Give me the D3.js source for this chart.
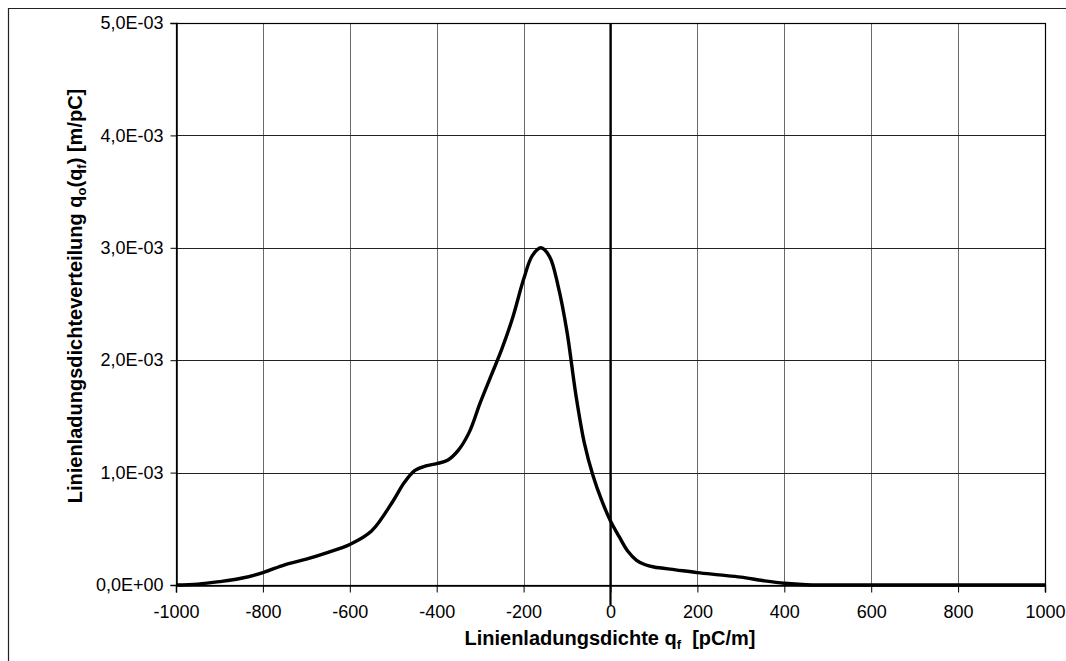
<!DOCTYPE html>
<html>
<head>
<meta charset="utf-8">
<script src="https://cdn.jsdelivr.net/npm/d3@7"></script>
<style>
  html, body { margin: 0; padding: 0; background: #fff; }
  svg { display: block; font-family: "Liberation Sans", Arial, sans-serif; }
</style>
</head>
<body>
<svg id="chart" width="1066" height="661"></svg>
<script>
// Linienladungsdichte q_f [pC/m]
const chargeDensity = [-1000, -950, -900, -850, -800, -750, -700, -650, -600, -550,
  -500, -475, -450, -425, -400, -375, -350, -325, -300, -275, -250, -225, -200,
  -180, -160, -140, -120, -100, -80, -60, -40, -20, 0, 20, 40, 60, 80, 100, 150,
  200, 250, 300, 350, 400, 450, 500, 600, 700, 800, 900, 1000];
// Verteilung q_o(q_f) [m/pC]
const distribution = [0, 0.000008, 0.00003, 0.00006, 0.00011, 0.00018, 0.00023,
  0.00029, 0.00036, 0.00048, 0.00075, 0.00091, 0.00102, 0.00106, 0.00108, 0.00111,
  0.00120, 0.00136, 0.00162, 0.00186, 0.00210, 0.00238, 0.00272, 0.00293, 0.00300,
  0.00292, 0.00265, 0.00225, 0.00170, 0.00126, 0.00097, 0.00075, 0.00057, 0.00043,
  0.00030, 0.00022, 0.00018, 0.00016, 0.000135, 0.00011, 0.00009, 0.00007, 0.00004,
  0.000015, 0.000002, 0, 0, 0, 0, 0, 0];
const xTicks = [-1000, -800, -600, -400, -200, 0, 200, 400, 600, 800, 1000];
const yTicks = [0, 0.001, 0.002, 0.003, 0.004, 0.005];
const yTickLabels = ["0,0E+00", "1,0E-03", "2,0E-03", "3,0E-03", "4,0E-03", "5,0E-03"];

const svg = d3.select("#chart");
const plotLeft = 176, plotRight = 1045, plotTop = 23, plotBottom = 585;

const x = d3.scaleLinear().domain([-1000, 1000]).range([plotLeft, plotRight]);
const y = d3.scaleLinear().domain([0, 0.005]).range([plotBottom, plotTop]);

// outer frame (left and top edges)
svg.append("path")
  .attr("d", `M8.5,661 V8.5 H1066`)
  .attr("fill", "none").attr("stroke", "#222").attr("stroke-width", 1.2);

// vertical gridlines
svg.append("g").selectAll("line").data(xTicks.slice(1, -1)).join("line")
  .attr("x1", d => Math.round(x(d)) + 0.5).attr("x2", d => Math.round(x(d)) + 0.5)
  .attr("y1", plotTop).attr("y2", plotBottom)
  .attr("stroke", "#6a6a6a").attr("stroke-width", 1);

// horizontal gridlines
svg.append("g").selectAll("line").data(yTicks.slice(1)).join("line")
  .attr("x1", plotLeft).attr("x2", plotRight)
  .attr("y1", d => Math.round(y(d)) + 0.5).attr("y2", d => Math.round(y(d)) + 0.5)
  .attr("stroke", "#222").attr("stroke-width", 1);

// plot border
svg.append("rect")
  .attr("x", plotLeft + 0.5).attr("y", plotTop + 0.5)
  .attr("width", plotRight - plotLeft).attr("height", plotBottom - plotTop)
  .attr("fill", "none").attr("stroke", "#000").attr("stroke-width", 1.2);

// x axis
const xAxis = d3.axisBottom(x).tickValues(xTicks).tickSize(7).tickPadding(13)
  .tickFormat(d => d < 0 ? "-" + Math.abs(d) : String(d));
const gx = svg.append("g").attr("transform", `translate(0,${plotBottom + 0.5})`).call(xAxis);
gx.select(".domain").attr("stroke", "#000").attr("stroke-width", 1.5);
gx.selectAll(".tick line").attr("stroke", "#000");
gx.selectAll("text").attr("font-size", 18).attr("fill", "#000")
  .attr("font-family", "Liberation Sans, Arial, sans-serif");

// y axis
const yAxis = d3.axisLeft(y).tickValues(yTicks).tickSize(6).tickPadding(7)
  .tickFormat((d, i) => yTickLabels[i]);
const gy = svg.append("g").attr("transform", `translate(${plotLeft + 0.5},0)`).call(yAxis);
gy.select(".domain").attr("stroke", "#000").attr("stroke-width", 1.5);
gy.selectAll(".tick line").attr("stroke", "#000");
gy.selectAll("text").attr("font-size", 18).attr("fill", "#000")
  .attr("font-family", "Liberation Sans, Arial, sans-serif");

// zero line
svg.append("line")
  .attr("x1", x(0)).attr("x2", x(0))
  .attr("y1", plotTop).attr("y2", plotBottom + 20)
  .attr("stroke", "#000").attr("stroke-width", 2.2);

// distribution curve
const pts = chargeDensity.map((d, i) => [d, distribution[i]]);
const line = d3.line()
  .x(d => x(d[0])).y(d => Math.min(y(d[1]), plotBottom))
  .curve(d3.curveCatmullRom.alpha(0.5));
svg.append("path").datum(pts)
  .attr("d", line)
  .attr("fill", "none").attr("stroke", "#000")
  .attr("stroke-width", 3.4).attr("stroke-linejoin", "round");

// x axis title
const xt = svg.append("text")
  .attr("x", 610).attr("y", 645)
  .attr("text-anchor", "middle").attr("font-size", 20).attr("font-weight", "bold");
xt.append("tspan").text("Linienladungsdichte q");
xt.append("tspan").attr("font-size", 13).attr("dy", 4).text("f");
xt.append("tspan").attr("dy", -4).text("\u00a0\u00a0[pC/m]");

// y axis title
const yt = svg.append("text")
  .attr("transform", `translate(82,296) rotate(-90)`)
  .attr("text-anchor", "middle").attr("font-size", 20).attr("font-weight", "bold");
yt.append("tspan").text("Linienladungsdichteverteilung q");
yt.append("tspan").attr("font-size", 13).attr("dy", 4).text("o");
yt.append("tspan").attr("dy", -4).text("(q");
yt.append("tspan").attr("font-size", 13).attr("dy", 4).text("f");
yt.append("tspan").attr("dy", -4).text(") [m/pC]");
</script>
</body>
</html>
